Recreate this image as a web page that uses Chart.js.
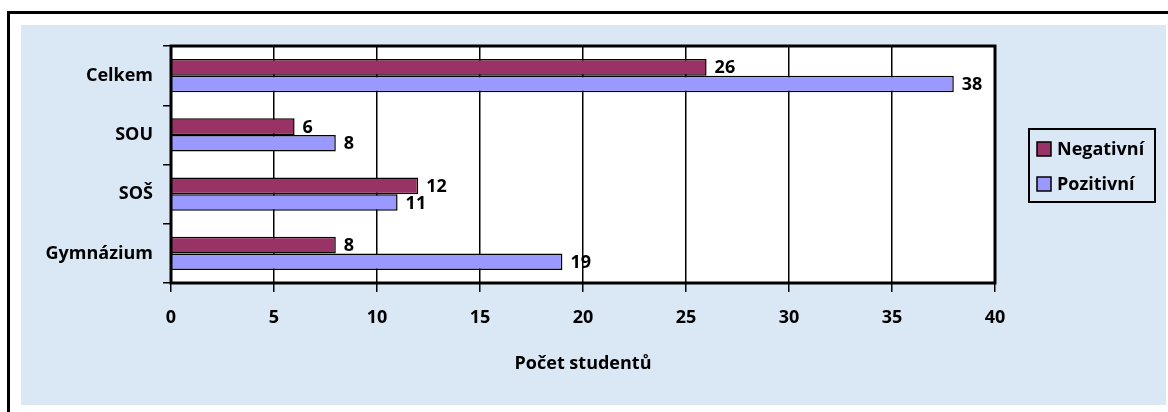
<!DOCTYPE html>
<html>
<head>
<meta charset="utf-8">
<script src="https://cdn.jsdelivr.net/npm/chart.js@4"></script>
<style>
  html, body { margin: 0; padding: 0; background: #fff; }
  #graf { display: block; }
</style>
</head>
<body>
<canvas id="graf" width="1168" height="412"></canvas>
<script>
// data
const kategorie = ['Celkem', 'SOU', 'SOŠ', 'Gymnázium'];
const negativni = [26, 6, 12, 8];
const pozitivni = [38, 8, 11, 19];
const nazvySerii = ['Negativní', 'Pozitivní'];
const barvySerii = ['#993366', '#9999ff'];
const osaX = { min: 0, max: 40, krok: 5, titulek: 'Počet studentů' };

const PISMO = '"Open Sans", Lato, sans-serif';
const VELIKOST = 18;

// background, frame and white plot area
const pozadi = {
    id: 'pozadi',
    beforeDraw(chart) {
        const { ctx, chartArea: a } = chart;
        ctx.save();
        ctx.fillStyle = '#ffffff';
        ctx.fillRect(0, 0, chart.width, chart.height);
        ctx.fillStyle = '#dae8f5';
        ctx.fillRect(21, 25, 1145, 380);
        ctx.strokeStyle = '#000';
        ctx.lineWidth = 3;
        ctx.strokeRect(8.5, 12.5, 1300, 500);
        ctx.fillStyle = '#ffffff';
        ctx.fillRect(a.left, a.top, a.right - a.left, a.bottom - a.top);
        ctx.restore();
    },
    afterDraw(chart) {
        const { ctx, chartArea: a } = chart;
        ctx.save();
        ctx.strokeStyle = '#000';
        ctx.lineWidth = 3;
        ctx.strokeRect(a.left, a.top, a.right - a.left, a.bottom - a.top);
        ctx.restore();
    }
};

// value labels next to bars
const popisky = {
    id: 'popisky',
    afterDatasetsDraw(chart) {
        const ctx = chart.ctx;
        ctx.save();
        ctx.font = 'bold ' + VELIKOST + 'px ' + PISMO;
        ctx.fillStyle = '#000';
        ctx.textAlign = 'left';
        ctx.textBaseline = 'middle';
        chart.data.datasets.forEach((ds, i) => {
            chart.getDatasetMeta(i).data.forEach((bar, j) => {
                ctx.fillText(String(ds.data[j]), bar.x + 8, bar.y + 1);
            });
        });
        ctx.restore();
    }
};

// framed legend on the right
const legenda = {
    id: 'legenda',
    afterDraw(chart) {
        const { ctx, chartArea: a } = chart;
        const x = a.right + 34, y = 129, w = 126, h = 73;
        ctx.save();
        ctx.strokeStyle = '#000';
        ctx.lineWidth = 2;
        ctx.strokeRect(x, y, w, h);
        ctx.font = 'bold ' + VELIKOST + 'px ' + PISMO;
        ctx.textBaseline = 'middle';
        chart.data.datasets.forEach((ds, i) => {
            const cy = y + 20 + i * 35;
            ctx.fillStyle = ds.backgroundColor;
            ctx.fillRect(x + 8, cy - 7, 14, 14);
            ctx.lineWidth = 1.5;
            ctx.strokeRect(x + 8, cy - 7, 14, 14);
            ctx.fillStyle = '#000';
            ctx.fillText(ds.label, x + 28, cy + 1);
        });
        ctx.restore();
    }
};

new Chart(document.getElementById('graf'), {
    type: 'bar',
    data: {
        labels: kategorie,
        datasets: [
            { label: nazvySerii[0], data: negativni, backgroundColor: barvySerii[0] },
            { label: nazvySerii[1], data: pozitivni, backgroundColor: barvySerii[1] }
        ]
    },
    options: {
        indexAxis: 'y',
        responsive: false,
        animation: false,
        devicePixelRatio: 1,
        layout: { padding: { left: 0, top: 46, right: 173, bottom: 0 } },
        datasets: {
            bar: {
                borderColor: '#000',
                borderWidth: 1.5,
                categoryPercentage: 0.56,
                barPercentage: 1.0
            }
        },
        plugins: {
            legend: { display: false },
            tooltip: { enabled: false }
        },
        scales: {
            x: {
                min: osaX.min,
                max: osaX.max,
                afterFit(s) { s.height = 412 - 283; },
                border: { display: false },
                grid: { color: '#000', lineWidth: 1.5, tickLength: 9, tickColor: '#000' },
                ticks: {
                    stepSize: osaX.krok,
                    color: '#000',
                    padding: 15,
                    font: { family: PISMO, size: VELIKOST, weight: 'bold' }
                },
                title: {
                    display: true,
                    text: osaX.titulek,
                    color: '#000',
                    padding: { top: 0, bottom: 37 },
                    font: { family: PISMO, size: VELIKOST, weight: 'bold' }
                }
            },
            y: {
                afterFit(s) { s.width = 171; },
                border: { display: false },
                grid: { drawOnChartArea: false, color: '#000', lineWidth: 1.5, tickLength: 8, offset: true },
                ticks: {
                    color: '#000',
                    padding: 10,
                    font: { family: PISMO, size: VELIKOST, weight: 'bold' }
                }
            }
        }
    },
    plugins: [pozadi, popisky, legenda]
});
</script>
</body>
</html>
